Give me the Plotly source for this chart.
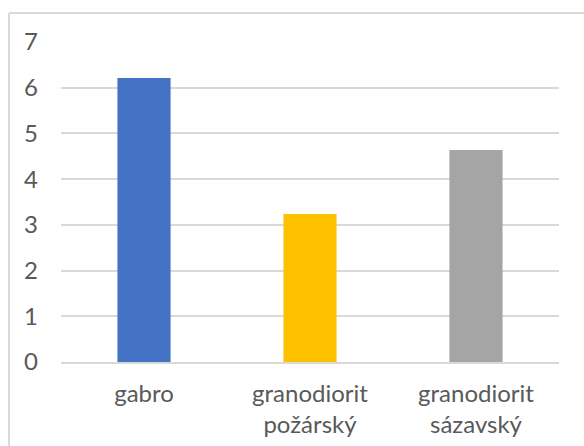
import plotly.graph_objects as go

categories = ["gabro", "granodiorit<br>požárský", "granodiorit<br>sázavský"]
values = [6.21, 3.24, 4.64]
bar_colors = ["#4472C4", "#FFC000", "#A5A5A5"]
y_ticks = [0, 1, 2, 3, 4, 5, 6, 7]

W, H = 584, 446
L, R, T, B = 61, 25, 42, 84
pw, ph = W - L - R, H - T - B
bx = (9 - L) / pw
by = 1 + (T - 13) / ph

fig = go.Figure(go.Bar(x=categories, y=values, marker=dict(color=bar_colors, line=dict(width=0)),
                       hoverinfo="skip"))

fig.update_layout(
    width=W, height=H,
    margin=dict(l=L, r=R, t=T, b=B, autoexpand=False),
    paper_bgcolor="white", plot_bgcolor="white",
    bargap=0.68,
    showlegend=False,
    font=dict(family="Lato", size=24, color="#595959"),
    xaxis=dict(showgrid=False, showline=True, linecolor="#D9D9D9", linewidth=1.5, automargin=False,
               ticks="", ticklabelstandoff=9, tickfont=dict(size=24, color="#595959")),
    yaxis=dict(range=[0, 7], tickvals=y_ticks, showgrid=True, gridcolor="#D9D9D9", gridwidth=1.5,
               zeroline=False, showline=False, ticks="", ticklabelstandoff=22, automargin=False,
               tickfont=dict(size=24, color="#595959")),
    shapes=[
        dict(type="line", xref="paper", yref="paper", x0=bx, x1=2, y0=by, y1=by,
             line=dict(color="#D9D9D9", width=2), layer="above"),
        dict(type="line", xref="paper", yref="paper", x0=bx, x1=bx, y0=-2, y1=by,
             line=dict(color="#D9D9D9", width=2), layer="above"),
    ],
)

fig.write_html("out.html")
